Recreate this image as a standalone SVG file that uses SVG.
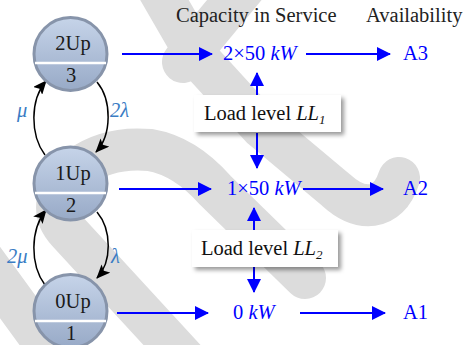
<svg xmlns="http://www.w3.org/2000/svg" width="470" height="345" viewBox="0 0 470 345">
<defs>
<linearGradient id="nodeFill" x1="0" y1="0" x2="0" y2="1">
<stop offset="0" stop-color="#c6d4e9"/>
<stop offset="1" stop-color="#98aac7"/>
</linearGradient>
<marker id="arrBlack" viewBox="0 0 14 12" refX="13" refY="6" markerWidth="14" markerHeight="12" markerUnits="userSpaceOnUse" orient="auto">
<path d="M0,0 L14,6 L0,12 L3,6 Z" fill="#000"/>
</marker>
<marker id="arrBlue" viewBox="0 0 14 14" refX="13" refY="7" markerWidth="14" markerHeight="14" markerUnits="userSpaceOnUse" orient="auto">
<path d="M0,0 L14,7 L0,14 Z" fill="#0000ff"/>
</marker>
<filter id="shadow" x="-10%" y="-20%" width="125%" height="160%">
<feDropShadow dx="3" dy="3" stdDeviation="2.2" flood-color="#000" flood-opacity="0.4"/>
</filter>
</defs>
<style>
.wm{fill:none;stroke:#dcdcdc;stroke-width:42;stroke-linecap:round;stroke-linejoin:round}
.node circle{fill:url(#nodeFill);stroke:#8794aa;stroke-width:3}
.div{stroke:#ffffff;stroke-width:2.5}
.t{font-family:"Liberation Serif","Times New Roman",serif;font-size:20.5px}
.nt{fill:#1a1a1a;text-anchor:middle}
.blue{fill:#0000ff}
.gl{fill:#3a7cc4;font-style:italic}
.it{font-style:italic}
.bl{stroke:#000;stroke-width:1.5;fill:none;marker-end:url(#arrBlack)}
.ba{stroke:#0000ff;stroke-width:2;fill:none;marker-end:url(#arrBlue)}
.box rect{fill:#fff;filter:url(#shadow)}
</style>
<g id="watermark">
<path class="wm" d="M150,-25 L198,58 L262,128 L336,190 C360,212 388,212 399,178"/>
<path class="wm" d="M255,-25 L183,62"/>
<path class="wm" d="M195,370 L68,232 Q42,204 78,168 Q108,146 150,150 Q185,156 215,190 L305,278"/>
<path class="wm" d="M-20,255 L60,365"/>
</g>
<g id="connectors">
<path class="bl" d="M45,155 C30,135 30,100 46,81"/>
<path class="bl" d="M97,82 C112,100 112,135 96,152"/>
<path class="bl" d="M45,285 C30,265 30,230 46,210"/>
<path class="bl" d="M97,212 C112,230 112,262 97,278"/>
<path class="ba" d="M122,54 L212,54"/>
<path class="ba" d="M306,54 L390,54"/>
<path class="ba" d="M119,189 L211,189"/>
<path class="ba" d="M303,189 L383,189"/>
<path class="ba" d="M117,313 L208,313"/>
<path class="ba" d="M300,313 L385,313"/>
<path class="ba" d="M257,95 L257,73"/>
<path class="ba" d="M257,133 L257,168"/>
<path class="ba" d="M254,230 L254,208"/>
<path class="ba" d="M254,267 L254,292"/>
</g>
<g id="labels" class="t">
<text class="gl" x="17" y="117">μ</text>
<text class="gl" x="110" y="117">2λ</text>
<text class="gl" x="7" y="263">2μ</text>
<text class="gl" x="111" y="263">λ</text>
<text x="176" y="22" fill="#222">Capacity in Service</text>
<text x="366" y="22" fill="#222">Availability</text>
</g>
<g id="node-2Up" class="node">
<circle cx="70.5" cy="54" r="36.5"/>
<line class="div" x1="35" y1="63" x2="106" y2="63"/>
<text class="t nt" x="73" y="50">2Up</text>
<text class="t nt" x="71" y="82">3</text>
</g>
<g id="node-1Up" class="node">
<circle cx="70.5" cy="183.5" r="36.5"/>
<line class="div" x1="35" y1="193" x2="106" y2="193"/>
<text class="t nt" x="73" y="180">1Up</text>
<text class="t nt" x="71" y="212">2</text>
</g>
<g id="node-0Up" class="node">
<circle cx="70.5" cy="311" r="36.5"/>
<line class="div" x1="35" y1="321" x2="106" y2="321"/>
<text class="t nt" x="73" y="308">0Up</text>
<text class="t nt" x="71" y="340">1</text>
</g>
<g id="cap-2x50" class="t blue">
<text x="223" y="60">2×50 <tspan class="it">kW</tspan></text>
</g>
<g id="cap-1x50" class="t blue">
<text x="227" y="195">1×50 <tspan class="it">kW</tspan></text>
</g>
<g id="cap-0" class="t blue">
<text x="233" y="319">0 <tspan class="it">kW</tspan></text>
</g>
<g id="avail-A3" class="t blue"><text x="403" y="60">A3</text></g>
<g id="avail-A2" class="t blue"><text x="403" y="195">A2</text></g>
<g id="avail-A1" class="t blue"><text x="403" y="319">A1</text></g>
<g id="load-LL1" class="box">
<rect x="194" y="95" width="147" height="37"/>
<text class="t" x="204" y="120" fill="#111">Load level <tspan class="it">LL</tspan><tspan class="it" font-size="13" dy="4">1</tspan></text>
</g>
<g id="load-LL2" class="box">
<rect x="192" y="230" width="146" height="37"/>
<text class="t" x="201" y="255" fill="#111">Load level <tspan class="it">LL</tspan><tspan class="it" font-size="13" dy="4">2</tspan></text>
</g>
</svg>
